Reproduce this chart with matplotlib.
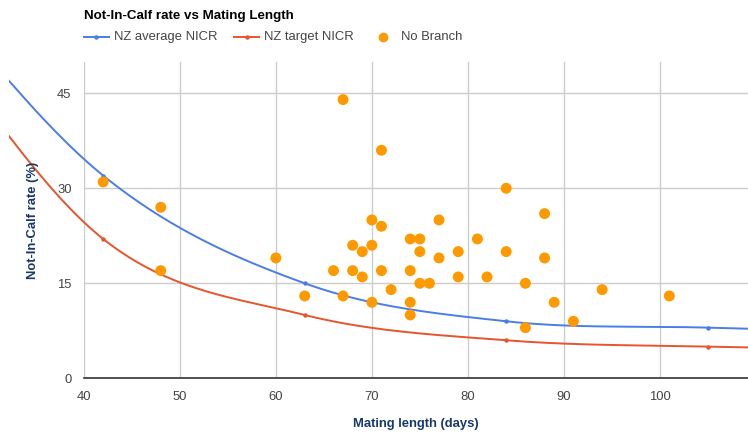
import numpy as np
import matplotlib
matplotlib.use("Agg")
import matplotlib.pyplot as plt
from matplotlib.patches import Rectangle

plt.rcParams['font.family'] = ['Liberation Sans', 'DejaVu Sans']

# reference curves (points at 21 and 126 sit outside the visible area)
curve_x = [21, 42, 63, 84, 105, 126]
nz_average = [66.5, 32, 15, 9, 8, 7.2]
nz_target = [60.5, 22, 10, 6, 5, 4.6]

# branch data
branch_x = [42, 48, 48, 60, 63, 66, 67, 67, 68, 68, 69, 69, 70, 70, 70, 71, 71, 71, 72,
            74, 74, 74, 74, 75, 75, 75, 76, 77, 77, 79, 79, 81, 82, 84, 84, 86, 86,
            88, 88, 89, 91, 94, 101]
branch_y = [31, 27, 17, 19, 13, 17, 44, 13, 21, 17, 20, 16, 25, 21, 12, 36, 24, 17, 14,
            22, 17, 12, 10, 22, 20, 15, 15, 25, 19, 20, 16, 22, 16, 30, 20, 15, 8,
            26, 19, 12, 9, 14, 13]

x_ticks = [40, 50, 60, 70, 80, 90, 100]
y_ticks = [0, 15, 30, 45]

BLUE = '#4a7ee6'
RED = '#e6552d'
ORANGE = '#ff9900'
NAVY = '#17386a'


def smooth(xs, ys, n=40):
    # catmull-rom style smoothing between the given points
    xs = np.asarray(xs, float)
    ys = np.asarray(ys, float)
    m = np.zeros_like(ys)
    m[1:-1] = (ys[2:] - ys[:-2]) / 2
    m[0] = ys[1] - ys[0]
    m[-1] = ys[-1] - ys[-2]
    out_x, out_y = [], []
    for i in range(len(xs) - 1):
        t = np.linspace(0, 1, n)
        h00 = 2 * t**3 - 3 * t**2 + 1
        h10 = t**3 - 2 * t**2 + t
        h01 = -2 * t**3 + 3 * t**2
        h11 = t**3 - t**2
        out_x.extend(xs[i] + t * (xs[i + 1] - xs[i]))
        out_y.extend(h00 * ys[i] + h10 * m[i] + h01 * ys[i + 1] + h11 * m[i + 1])
    return np.array(out_x), np.array(out_y)


fig = plt.figure(figsize=(7.48, 4.32), dpi=100)
ax = fig.add_axes([84 / 748, 1 - 378.3 / 432, 1 - 84 / 748, (378.3 - 61.6) / 432])
ax.set_xlim(40, 109.2)
ax.set_ylim(0, 50)

clip = Rectangle((9 / 748, 0), 1, 1, transform=fig.transFigure)

for ys, col in [(nz_average, BLUE), (nz_target, RED)]:
    sx, sy = smooth(curve_x, ys)
    ln, = ax.plot(sx, sy, color=col, lw=1.4, zorder=3)
    ln.set_clip_path(clip)
    mk, = ax.plot(curve_x, ys, ls='none', marker='o', ms=2.2, color=col, zorder=3)
    mk.set_clip_path(clip)

ax.scatter(branch_x, branch_y, s=62, color=ORANGE, edgecolors='none', zorder=4)

ax.set_xticks(x_ticks)
ax.set_yticks(y_ticks)
ax.grid(True, color='#cccccc', lw=1)
ax.set_axisbelow(True)
for s in ['top', 'right', 'left']:
    ax.spines[s].set_visible(False)
ax.spines['bottom'].set_color('#333333')
ax.spines['bottom'].set_linewidth(1.2)
ax.tick_params(length=0, labelsize=9.4, labelcolor='#444444')
ax.tick_params(axis='x', pad=9)
ax.tick_params(axis='y', pad=9)

fig.text(84 / 748, 1 - 16 / 432, 'Not-In-Calf rate vs Mating Length', fontsize=9.6,
         fontweight='bold', color='#000000', va='center', ha='left')

# legend
ly = 1 - 37 / 432
fig.add_artist(plt.Line2D([84 / 748, 109 / 748], [ly, ly], color=BLUE, lw=1.4))
fig.add_artist(plt.Line2D([96.5 / 748], [ly], marker='o', ms=2.2, color=BLUE))
fig.text(114 / 748, ly, 'NZ average NICR', fontsize=9.4, color='#444444', va='center')
fig.add_artist(plt.Line2D([234 / 748, 259 / 748], [ly, ly], color=RED, lw=1.4))
fig.add_artist(plt.Line2D([246.5 / 748], [ly], marker='o', ms=2.2, color=RED))
fig.text(264 / 748, ly, 'NZ target NICR', fontsize=9.4, color='#444444', va='center')
fig.add_artist(plt.Line2D([383 / 748], [ly], marker='o', ms=7, color=ORANGE, mec='none'))
fig.text(401 / 748, ly, 'No Branch', fontsize=9.4, color='#444444', va='center')

fig.text(416 / 748, 1 - 424 / 432, 'Mating length (days)', fontsize=9.4, fontweight='bold',
         color=NAVY, ha='center', va='center')
fig.text(33 / 748, 1 - 220 / 432, 'Not-In-Calf rate (%)', fontsize=9.4, fontweight='bold',
         color=NAVY, ha='center', va='center', rotation=90)

fig.savefig('out.png', dpi=100)
